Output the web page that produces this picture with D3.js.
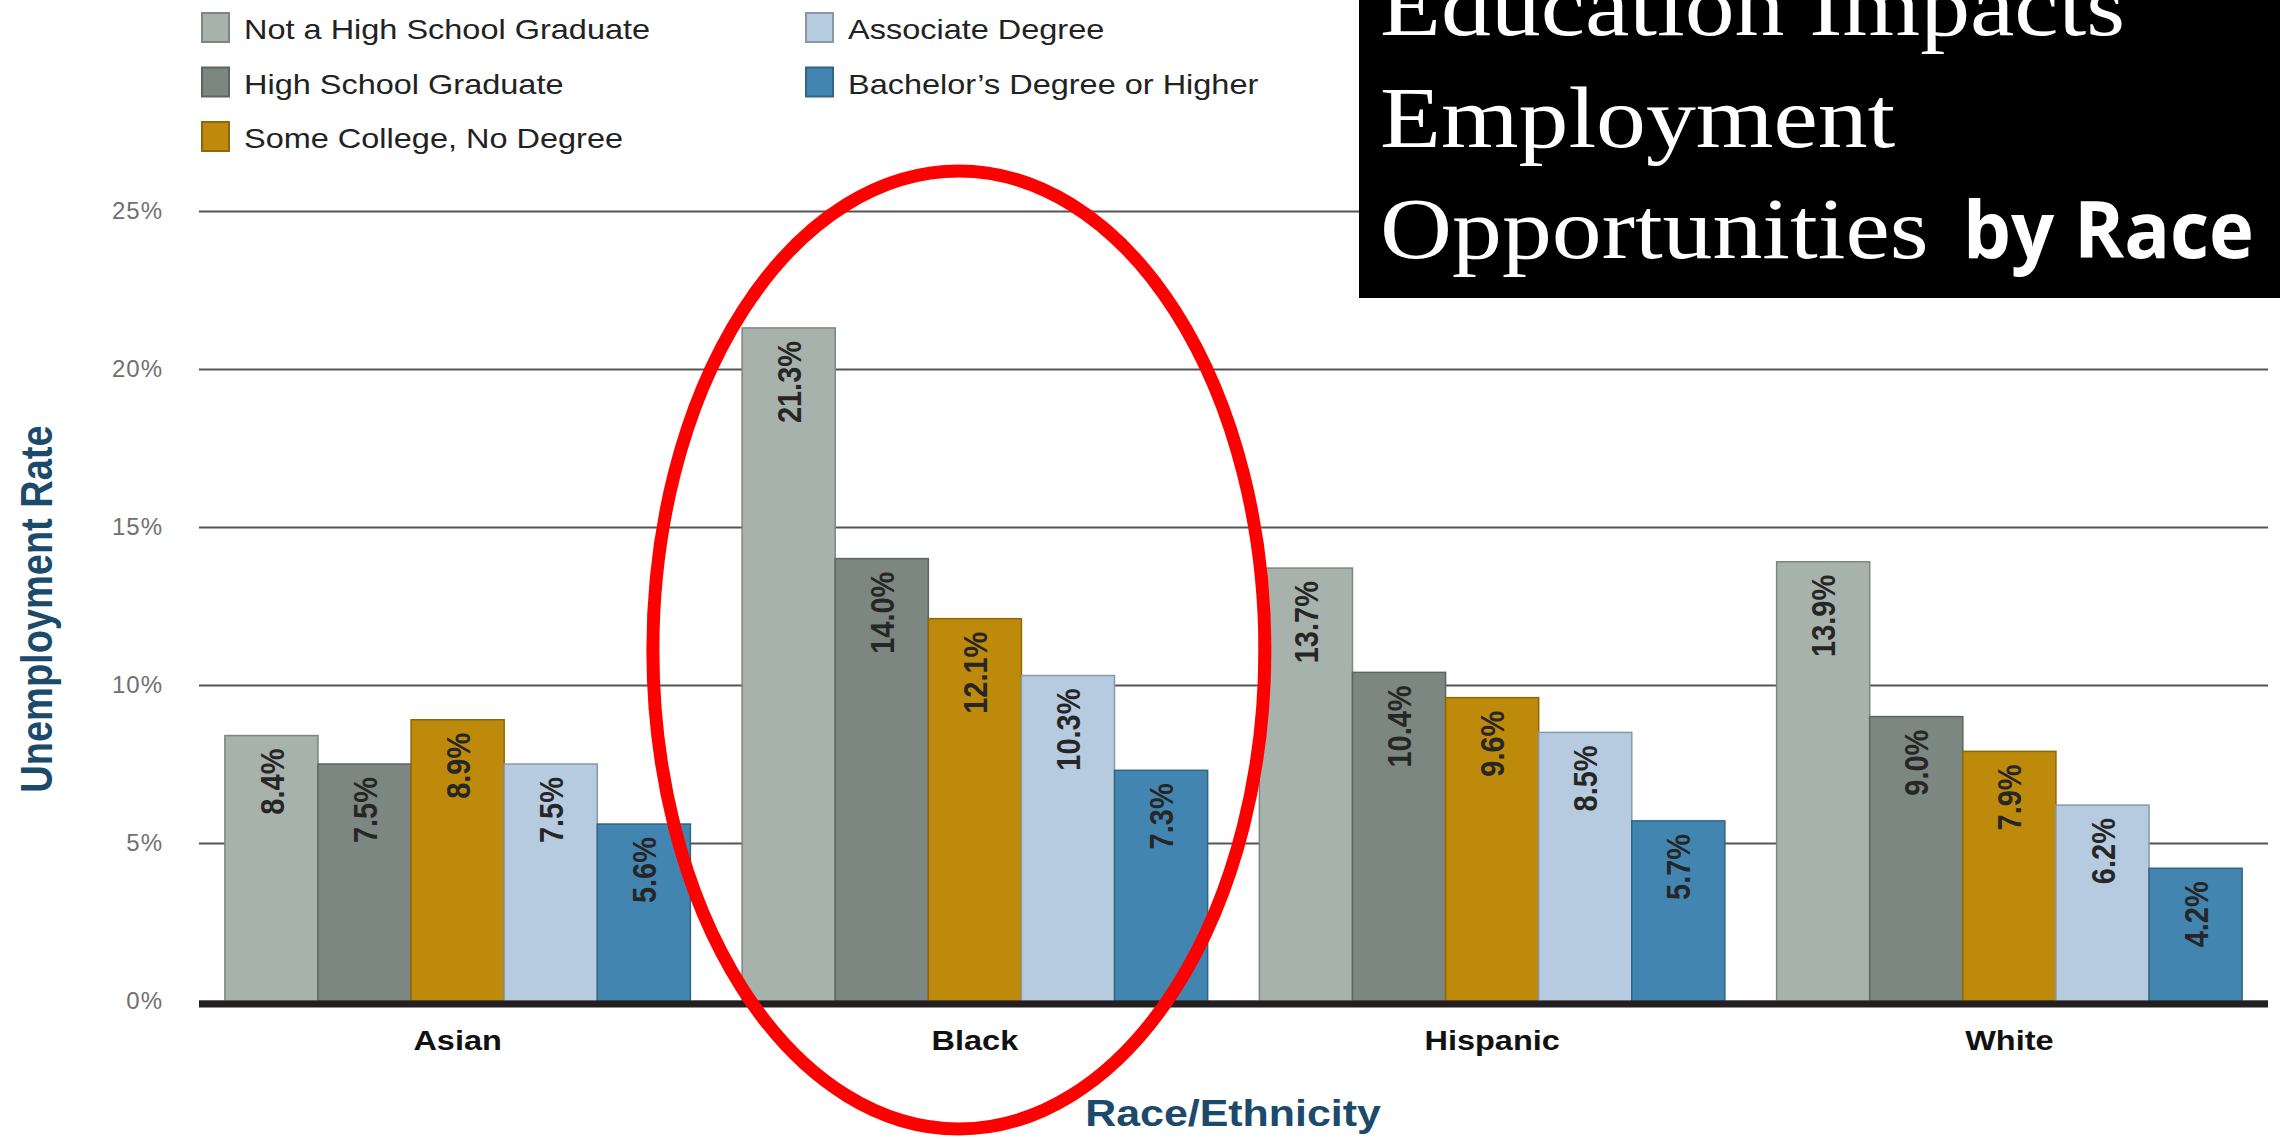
<!DOCTYPE html>
<html>
<head>
<meta charset="utf-8">
<script src="https://cdn.jsdelivr.net/npm/d3@7"></script>
<style>
  body { margin: 0; background: #fff; }
  svg { display: block; }
</style>
</head>
<body>
<svg class="chart"></svg>
<script>
// data
var races = ["Asian", "Black", "Hispanic", "White"];
var levels = ["Not a High School Graduate", "High School Graduate", "Some College, No Degree",
              "Associate Degree", "Bachelor\u2019s Degree or Higher"];
var asian    = [8.4, 7.5, 8.9, 7.5, 5.6];
var black    = [21.3, 14.0, 12.1, 10.3, 7.3];
var hispanic = [13.7, 10.4, 9.6, 8.5, 5.7];
var white    = [13.9, 9.0, 7.9, 6.2, 4.2];
var yTicks = [0, 5, 10, 15, 20, 25];
var titleLines = ["Education Impacts", "Employment", "Opportunities"];
var titleTail = "by Race";

var colors = ["#a6b2ab", "#7b8780", "#bd8a0b", "#b6cbe0", "#4285b0"];

var rows = [asian, black, hispanic, white];
var data = races.map(function(r, i) {
  return { race: r, values: levels.map(function(l, j) { return { level: l, value: rows[i][j] }; }) };
});

var W = 2280, H = 1139;
var SX = 1.16; // the source picture is stretched sideways a little
var plotL = 199, plotR = 2268, plotT = 211, plotB = 1001;

var svg = d3.select(".chart").attr("width", W).attr("height", H);

var x0 = d3.scaleBand().domain(races).range([plotL, plotR]).paddingInner(0.1).paddingOuter(0.05);
var x1 = d3.scaleBand().domain(levels).range([0, x0.bandwidth()]);
var y = d3.scaleLinear().domain([0, 25]).range([plotB, plotT]);
var color = d3.scaleOrdinal().domain(levels).range(colors);

// gridlines + y labels
var yAxis = svg.append("g")
  .attr("transform", "translate(" + plotL + ",0)")
  .call(d3.axisLeft(y).tickValues(yTicks).tickSize(-(plotR - plotL)).tickPadding(36)
    .tickFormat(function(d) { return d + "%"; }));
yAxis.select(".domain").remove();
yAxis.selectAll(".tick line").attr("stroke", "#555").attr("stroke-width", 2);
yAxis.selectAll(".tick text")
  .attr("fill", "#707070")
  .style("font", "24px 'Liberation Sans', Arial, sans-serif")
  .style("letter-spacing", "1px");

// bars
var group = svg.selectAll(".grp").data(data).enter().append("g")
  .attr("class", "grp")
  .attr("transform", function(d) { return "translate(" + x0(d.race) + ",0)"; });

group.selectAll("rect").data(function(d) { return d.values; }).enter().append("rect")
  .attr("x", function(d) { return x1(d.level); })
  .attr("y", function(d) { return y(d.value); })
  .attr("width", x1.bandwidth())
  .attr("height", function(d) { return y(0) - y(d.value); })
  .attr("fill", function(d) { return color(d.level); })
  .attr("stroke", function(d) { return d3.color(color(d.level)).darker(0.8); })
  .attr("stroke-width", 1.5);

group.selectAll(".lbl").data(function(d) { return d.values; }).enter().append("text")
  .attr("class", "lbl")
  .attr("transform", function(d) {
    return "translate(" + (x1(d.level) + x1.bandwidth() / 2) + "," + (y(d.value) + 13) + ") scale(" + SX + ",1) rotate(-90)";
  })
  .attr("text-anchor", "end")
  .attr("dy", "0.36em")
  .attr("fill", "#262626")
  .style("font", "bold 29px 'Liberation Sans', Arial, sans-serif")
  .text(function(d) { return d.value.toFixed(1) + "%"; });

// x axis
var xAxis = svg.append("g")
  .attr("transform", "translate(0," + plotB + ")")
  .call(d3.axisBottom(x0).tickSize(0));
xAxis.select(".domain").remove();
xAxis.selectAll(".tick text")
  .attr("y", 49).attr("dy", null)
  .attr("transform", "scale(" + SX + ",1)")
  .attr("fill", "#111")
  .style("font", "bold 28px 'Liberation Sans', Arial, sans-serif");

svg.append("line")
  .attr("x1", plotL).attr("x2", plotR)
  .attr("y1", y(0) + 3).attr("y2", y(0) + 3)
  .attr("stroke", "#231f20").attr("stroke-width", 7);

// axis titles
svg.append("text")
  .attr("transform", "translate(36," + ((plotT + plotB) / 2 + 3) + ") scale(" + SX + ",1) rotate(-90)")
  .attr("text-anchor", "middle").attr("dy", "0.36em")
  .attr("fill", "#1b4a6b")
  .style("font", "bold 38px 'Liberation Sans', Arial, sans-serif")
  .text("Unemployment Rate");

svg.append("text")
  .attr("transform", "translate(1233,1126) scale(" + SX + ",1)")
  .attr("text-anchor", "middle")
  .attr("fill", "#1b4a6b")
  .style("font", "bold 37px 'Liberation Sans', Arial, sans-serif")
  .text("Race/Ethnicity");

// legend
var legend = svg.selectAll(".leg").data(levels).enter().append("g")
  .attr("class", "leg")
  .attr("transform", function(d, i) {
    var col = i < 3 ? 0 : 1, row = i < 3 ? i : i - 3;
    return "translate(" + (col ? 806 : 202) + "," + (13 + row * 54.5) + ")";
  });
legend.append("rect")
  .attr("width", 27).attr("height", 29)
  .attr("fill", function(d) { return color(d); })
  .attr("stroke", function(d) { return d3.color(color(d)).darker(0.8); })
  .attr("stroke-width", 2);
legend.append("text")
  .attr("transform", "translate(42,26) scale(" + SX + ",1)")
  .attr("fill", "#222")
  .style("font", "28px 'Liberation Sans', Arial, sans-serif")
  .text(function(d) { return d; });

// red highlight round the Black group
svg.append("ellipse")
  .attr("cx", x0("Black") + x0.bandwidth() / 2 - 16)
  .attr("cy", 650)
  .attr("rx", 306).attr("ry", 479)
  .attr("fill", "none")
  .attr("stroke", "#ff0000")
  .attr("stroke-width", 13);

// title box
svg.append("rect")
  .attr("x", 1359).attr("y", 0).attr("width", W - 1359).attr("height", 298)
  .attr("fill", "#000");

svg.selectAll(".title").data(titleLines).enter().append("text")
  .attr("class", "title")
  .attr("transform", function(d, i) { return "translate(1380," + (35 + i * 111.5) + ") scale(" + SX + ",1)"; })
  .attr("fill", "#fff")
  .style("font", "86px 'Liberation Serif', 'Times New Roman', serif")
  .text(function(d) { return d; });

svg.append("text")
  .attr("x", 1963).attr("y", 258)
  .attr("fill", "#fff")
  .attr("textLength", 291).attr("lengthAdjust", "spacingAndGlyphs")
  .style("font", "bold 78px 'Open Sans', sans-serif")
  .text(titleTail);
</script>
</body>
</html>
